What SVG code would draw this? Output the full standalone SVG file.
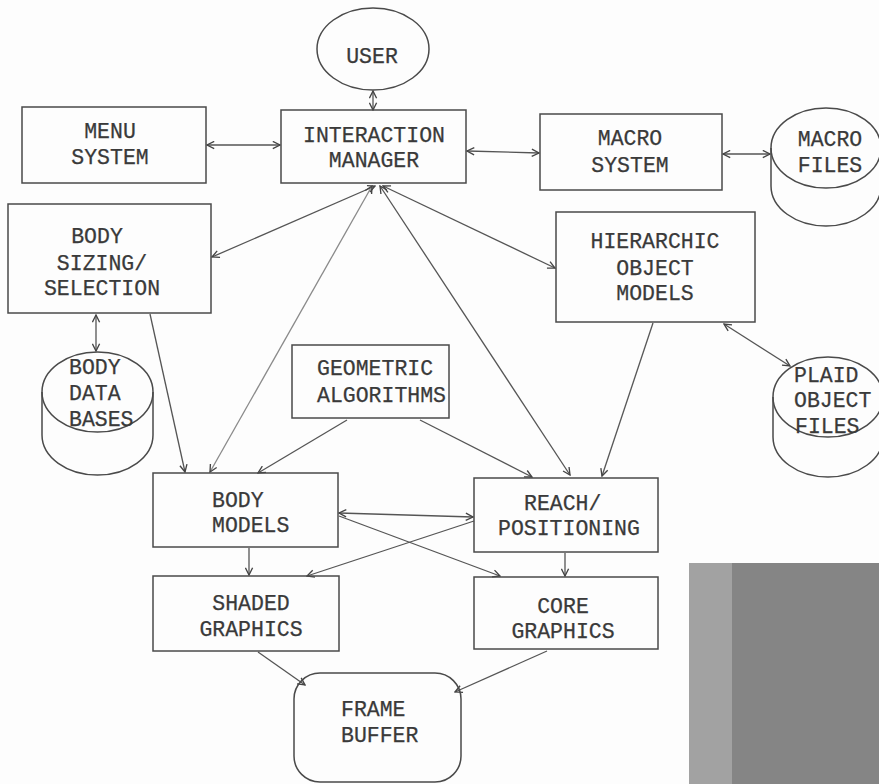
<svg xmlns="http://www.w3.org/2000/svg" width="879" height="784" viewBox="0 0 879 784">
<defs>
<style>
.bx{fill:none;stroke:#4a4a4a;stroke-width:1.5}
.t{font-family:"Liberation Mono","Courier New",monospace;font-size:21.5px;fill:#3a3a3a;stroke:#3a3a3a;stroke-width:0.25}
.m{text-anchor:middle}
.c{fill:none;stroke:#555;stroke-width:1.3}
.faint{stroke:#8a8a8a}
.a1{marker-end:url(#ah)}
.a2{marker-end:url(#ah);marker-start:url(#ah)}
</style>
<marker id="ah" viewBox="0 0 10 10" refX="9" refY="5" markerWidth="9" markerHeight="9" markerUnits="userSpaceOnUse" orient="auto-start-reverse">
<path d="M1,1 L9,5 L1,9" fill="none" stroke="#444" stroke-width="1.5"/>
</marker>
</defs>
<rect width="879" height="784" fill="#fdfdfd"/>

<g id="connectors">
<line class="c a2" x1="373" y1="91" x2="373" y2="110"/>
<line class="c a2" x1="207" y1="145" x2="280" y2="145"/>
<line class="c a2" x1="467" y1="151" x2="539" y2="153"/>
<line class="c a2" x1="723" y1="154" x2="770" y2="154"/>
<line class="c a2" x1="375" y1="186" x2="212" y2="257"/>
<line class="c a2 faint" x1="372" y1="186" x2="210" y2="472"/>
<line class="c a2" x1="380" y1="186" x2="570" y2="475"/>
<line class="c a2" x1="383" y1="186" x2="555" y2="268"/>
<line class="c a2" x1="96" y1="315" x2="96" y2="351"/>
<line class="c a1" x1="150" y1="314" x2="185" y2="472"/>
<line class="c a1" x1="347" y1="420" x2="258" y2="473"/>
<line class="c a1" x1="420" y1="420" x2="532" y2="477"/>
<line class="c a1" x1="653" y1="323" x2="602" y2="476"/>
<line class="c a2" x1="724" y1="324" x2="790" y2="366"/>
<line class="c a2" x1="339" y1="513" x2="473" y2="517"/>
<line class="c a1" x1="474" y1="521" x2="307" y2="576"/>
<line class="c a1" x1="339" y1="516" x2="500" y2="576"/>
<line class="c a1" x1="249" y1="548" x2="249" y2="575"/>
<line class="c a1" x1="565" y1="553" x2="565" y2="576"/>
<line class="c a1" x1="258" y1="652" x2="305" y2="685"/>
<line class="c a1" x1="547" y1="651" x2="455" y2="692"/>
</g>

<g id="user">
<ellipse class="bx" cx="373" cy="49" rx="56" ry="41"/>
<text class="t m" x="372" y="63">USER</text>
</g>

<g id="menu-system">
<rect class="bx" x="22" y="107" width="184" height="76"/>
<text class="t m" x="110" y="138">MENU</text>
<text class="t m" x="110" y="164">SYSTEM</text>
</g>

<g id="interaction-manager">
<rect class="bx" x="281" y="110" width="185" height="73"/>
<text class="t m" x="374" y="142">INTERACTION</text>
<text class="t m" x="374" y="167">MANAGER</text>
</g>

<g id="macro-system">
<rect class="bx" x="540" y="114" width="182" height="76"/>
<text class="t m" x="630" y="145">MACRO</text>
<text class="t m" x="630" y="172">SYSTEM</text>
</g>

<g id="macro-files">
<path class="bx" d="M771,148 L771,186 A55,40 0 0 0 881,186 L881,148"/>
<ellipse class="bx" cx="826" cy="148" rx="55" ry="40"/>
<text class="t m" x="830" y="146">MACRO</text>
<text class="t m" x="830" y="172">FILES</text>
</g>

<g id="body-sizing-selection">
<rect class="bx" x="8" y="204" width="203" height="109"/>
<text class="t m" x="97" y="243">BODY</text>
<text class="t m" x="102" y="270">SIZING/</text>
<text class="t m" x="102" y="295">SELECTION</text>
</g>

<g id="hierarchic-object-models">
<rect class="bx" x="556" y="212" width="199" height="110"/>
<text class="t m" x="655" y="248">HIERARCHIC</text>
<text class="t m" x="655" y="275">OBJECT</text>
<text class="t m" x="655" y="300">MODELS</text>
</g>

<g id="body-data-bases">
<path class="bx" d="M42,392 L42,435 A55.5,40 0 0 0 153,435 L153,392"/>
<ellipse class="bx" cx="97.5" cy="392" rx="55.5" ry="40"/>
<text class="t" x="69" y="374">BODY</text>
<text class="t" x="69" y="400">DATA</text>
<text class="t" x="69" y="426">BASES</text>
</g>

<g id="geometric-algorithms">
<rect class="bx" x="292" y="345" width="157" height="73"/>
<text class="t" x="317" y="375">GEOMETRIC</text>
<text class="t" x="317" y="402">ALGORITHMS</text>
</g>

<g id="plaid-object-files">
<path class="bx" d="M773,397 L773,437 A55,40 0 0 0 883,437 L883,397"/>
<ellipse class="bx" cx="828" cy="397" rx="55" ry="40"/>
<text class="t" x="794" y="382">PLAID</text>
<text class="t" x="794" y="407">OBJECT</text>
<text class="t" x="795" y="433">FILES</text>
</g>

<g id="body-models">
<rect class="bx" x="153" y="473" width="185" height="74"/>
<text class="t" x="212" y="507">BODY</text>
<text class="t" x="212" y="532">MODELS</text>
</g>

<g id="reach-positioning">
<rect class="bx" x="474" y="478" width="184" height="74"/>
<text class="t" x="524" y="510">REACH/</text>
<text class="t" x="498" y="535">POSITIONING</text>
</g>

<g id="shaded-graphics">
<rect class="bx" x="153" y="576" width="186" height="75"/>
<text class="t m" x="251" y="610">SHADED</text>
<text class="t m" x="251" y="636">GRAPHICS</text>
</g>

<g id="core-graphics">
<rect class="bx" x="474" y="577" width="184" height="72"/>
<text class="t m" x="563" y="613">CORE</text>
<text class="t m" x="563" y="638">GRAPHICS</text>
</g>

<g id="frame-buffer">
<rect class="bx" x="294" y="673" width="167" height="109" rx="26" ry="26"/>
<text class="t" x="341" y="716">FRAME</text>
<text class="t" x="341" y="742">BUFFER</text>
</g>

<g id="scan-patch">
<rect x="689" y="563" width="190" height="221" fill="#858585"/>
<rect x="689" y="563" width="43" height="221" fill="#a2a2a2"/>
</g>
</svg>
